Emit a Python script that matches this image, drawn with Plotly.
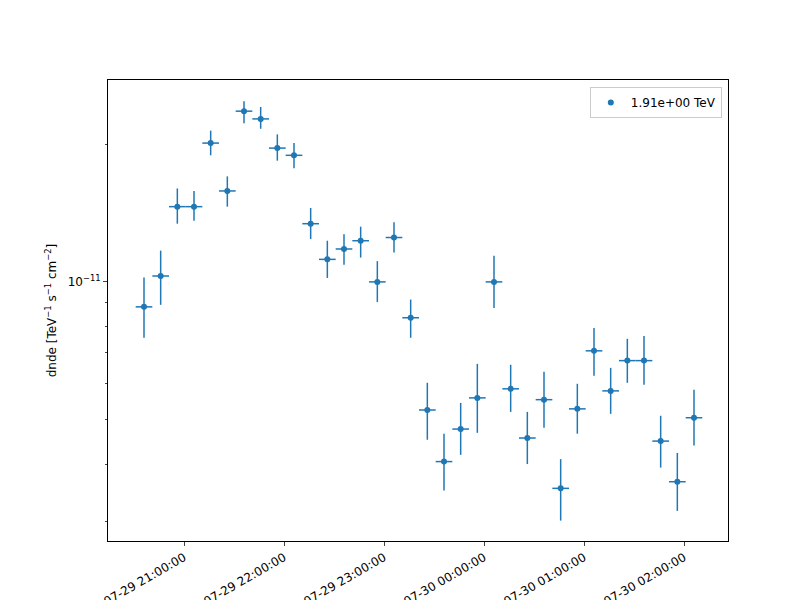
import plotly.graph_objects as go
import pandas as pd

times = pd.date_range("2021-07-29 20:36:00", periods=34, freq="10min")
dnde = [8.82,10.3,14.6,14.6,20.1,15.8,23.6,22.7,19.6,18.9,13.4,11.2,11.8,12.3,10.0,12.5,8.35,
        5.25,4.05,4.77,5.58,10.0,5.84,4.56,5.53,3.54,5.28,7.07,5.78,6.73,6.73,4.49,3.66,5.05]
err_hi = [1.4,1.4,1.4,1.2,1.3,1.2,1.2,1.4,1.4,1.2,1.1,1.1,0.9,0.9,1.1,1.0,0.8,
          0.77,0.61,0.67,1.04,1.4,0.75,0.64,0.83,0.56,0.71,0.86,0.71,0.78,0.89,0.61,0.57,0.76]
err_lo = [1.27,1.39,1.2,1.0,1.2,1.2,1.4,1.1,1.2,1.2,1.0,1.0,0.9,1.0,0.96,0.9,0.8,
          0.73,0.55,0.58,0.90,1.23,0.64,0.56,0.73,0.53,0.62,0.83,0.63,0.71,0.77,0.56,0.50,0.66]
scale = 1e-12
y = [v*scale for v in dnde]
eh = [v*scale for v in err_hi]
el = [v*scale for v in err_lo]
half = pd.Timedelta(minutes=5)

hx, hy = [], []
for t, v in zip(times, y):
    hx += [t - half, t + half, None]
    hy += [v, v, None]

blue = "#1f77b4"
fig = go.Figure()
fig.add_trace(go.Scatter(x=hx, y=hy, mode="lines", line=dict(color=blue, width=1.5),
                         showlegend=False, hoverinfo="skip"))
fig.add_trace(go.Scatter(
    x=times, y=y, mode="markers", name="1.91e+00 TeV",
    marker=dict(color=blue, size=6),
    error_y=dict(type="data", array=eh, arrayminus=el, color=blue, thickness=1.5, width=0),
))
minor_vals = [m*1e-12 for m in [3,4,5,6,7,8,9]] + [2e-11]
fig.update_layout(
    width=800, height=600, plot_bgcolor="white", paper_bgcolor="white",
    margin=dict(l=100, r=80, t=72, b=67),
    font=dict(family="DejaVu Sans", size=12, color="black"),
    showlegend=True,
    legend=dict(x=0.99, y=0.985, xanchor="right", yanchor="top",
                bordercolor="#cccccc", borderwidth=1, bgcolor="white"),
    xaxis=dict(range=["2021-07-29 20:14:24", "2021-07-30 02:26:24"], automargin=False,
               tickformat="%m-%d %H:%M:%S", dtick=3600000, tick0="2021-07-29 21:00:00",
               tickangle=-30, ticks="outside", ticklen=4, showgrid=False,
               showline=True, linecolor="black", mirror=True, zeroline=False),
    yaxis=dict(type="log", range=[-11.566, -10.559], tickvals=[1e-11], automargin=False,
               ticktext=["10<sup>−11</sup>"], ticks="outside", ticklen=4, showgrid=False,
               minor=dict(tickvals=minor_vals, ticks="outside", ticklen=2, showgrid=False),
               showline=True, linecolor="black", mirror=True,
               title=dict(text="dnde [TeV<sup>−1</sup> s<sup>−1</sup> cm<sup>−2</sup>]",
                          font=dict(size=12), standoff=8)),
)
fig.write_html("out.html")
